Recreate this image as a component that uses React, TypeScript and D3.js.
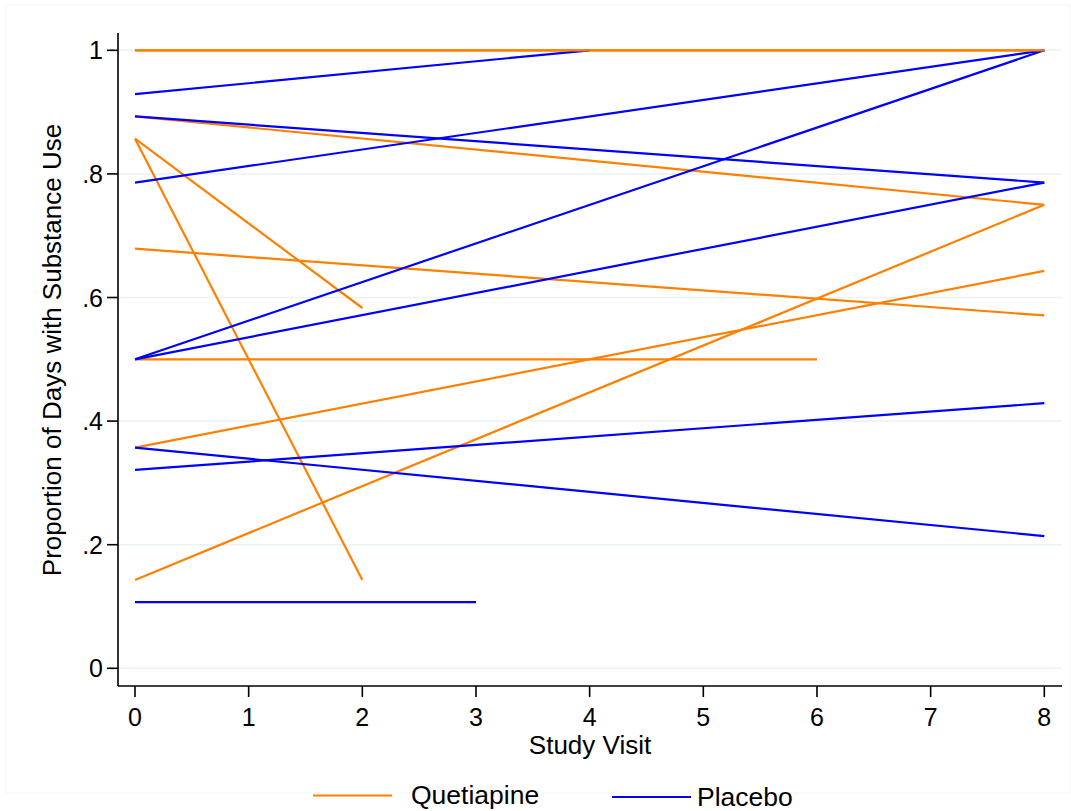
import React from "react";
import * as d3 from "d3";

// Each subject: [visit, proportion] endpoints
const quetiapineSubjects: [number, number][][] = [
  [[0, 1.0], [8, 1.0]],
  [[0, 0.893], [8, 0.75]],
  [[0, 0.857], [2, 0.583]],
  [[0, 0.857], [2, 0.143]],
  [[0, 0.679], [8, 0.571]],
  [[0, 0.5], [6, 0.5]],
  [[0, 0.357], [8, 0.643]],
  [[0, 0.143], [8, 0.75]],
];

const placeboSubjects: [number, number][][] = [
  [[0, 0.929], [4, 1.0]],
  [[0, 0.893], [8, 0.786]],
  [[0, 0.786], [8, 1.0]],
  [[0, 0.5], [8, 1.0]],
  [[0, 0.5], [8, 0.786]],
  [[0, 0.321], [8, 0.429]],
  [[0, 0.357], [8, 0.214]],
  [[0, 0.107], [3, 0.107]],
];

const xTicks = [0, 1, 2, 3, 4, 5, 6, 7, 8];
const yTicks = [0, 0.2, 0.4, 0.6, 0.8, 1];
const yTickLabels = ["0", ".2", ".4", ".6", ".8", "1"];
const seriesNames = ["Quetiapine", "Placebo"];
const seriesColors = ["#ff8000", "#0000ff"];

const W = 1071;
const H = 811;
const FONT = "'Liberation Sans', Arial, Helvetica, sans-serif";

export default function App() {
  const x = d3.scaleLinear().domain([0, 8]).range([135, 1044.3]);
  const y = d3.scaleLinear().domain([0, 1]).range([668.3, 50.3]);
  const line = d3
    .line<[number, number]>()
    .x((d) => x(d[0]))
    .y((d) => y(d[1]));

  const axisLeft = 118;
  const axisBottom = 686;
  const plotRight = 1062;
  const plotTop = 33;

  return (
    <svg
      width={W}
      height={H}
      style={{ position: "absolute", left: 0, top: 0, background: "#fff" }}
      fontFamily={FONT}
    >
      <rect x={0} y={0} width={W} height={H} fill="#fff" />
      <rect x={6} y={5} width={1064} height={788} fill="none" stroke="#f3f6f6" strokeWidth={1} />
      {/* gridlines */}
      {yTicks.map((t) => (
        <line key={"g" + t} x1={axisLeft} x2={plotRight} y1={y(t)} y2={y(t)} stroke="#eaf2f3" strokeWidth={1.5} />
      ))}
      {/* series */}
      {quetiapineSubjects.map((s, i) => (
        <path key={"q" + i} d={line(s) || ""} fill="none" stroke={seriesColors[0]} strokeWidth={2.2} />
      ))}
      {placeboSubjects.map((s, i) => (
        <path key={"p" + i} d={line(s) || ""} fill="none" stroke={seriesColors[1]} strokeWidth={2.2} />
      ))}
      {/* top orange line drawn again (dominant in reference) */}
      <path d={line(quetiapineSubjects[0]) || ""} fill="none" stroke={seriesColors[0]} strokeWidth={2.2} />
      {/* axes */}
      <line x1={axisLeft} x2={axisLeft} y1={plotTop} y2={axisBottom} stroke="#000" strokeWidth={1.6} />
      <line x1={axisLeft} x2={plotRight} y1={axisBottom} y2={axisBottom} stroke="#000" strokeWidth={1.6} />
      {yTicks.map((t, i) => (
        <g key={"yt" + t}>
          <line x1={axisLeft - 11} x2={axisLeft} y1={y(t)} y2={y(t)} stroke="#000" strokeWidth={1.6} />
          <text x={axisLeft - 15} y={y(t)} dy="0.36em" textAnchor="end" fontSize={25} fill="#000">
            {yTickLabels[i]}
          </text>
        </g>
      ))}
      {xTicks.map((t) => (
        <g key={"xt" + t}>
          <line x1={x(t)} x2={x(t)} y1={axisBottom} y2={axisBottom + 11} stroke="#000" strokeWidth={1.6} />
          <text x={x(t)} y={726} textAnchor="middle" fontSize={25} fill="#000">
            {t}
          </text>
        </g>
      ))}
      {/* axis titles */}
      <text x={590} y={754} textAnchor="middle" fontSize={26} fill="#000">
        Study Visit
      </text>
      <text
        transform={`translate(61,350) rotate(-90)`}
        textAnchor="middle"
        fontSize={26}
        fill="#000"
      >
        Proportion of Days with Substance Use
      </text>
      {/* legend */}
      <line x1={313} x2={392} y1={795.5} y2={795.5} stroke={seriesColors[0]} strokeWidth={1.8} />
      <text x={411} y={804} fontSize={26.5} fill="#000">
        {seriesNames[0]}
      </text>
      <line x1={612} x2={691} y1={797} y2={797} stroke={seriesColors[1]} strokeWidth={1.8} />
      <text x={697} y={806} fontSize={26.5} fill="#000">
        {seriesNames[1]}
      </text>
    </svg>
  );
}
